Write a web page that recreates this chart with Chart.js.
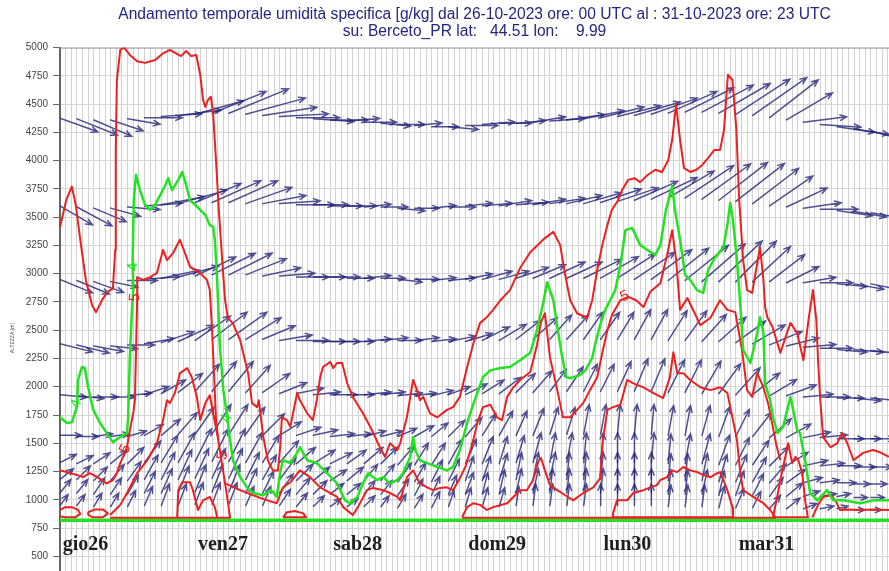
<!DOCTYPE html>
<html><head><meta charset="utf-8">
<script src="https://cdn.jsdelivr.net/npm/chart.js@4.4.0/dist/chart.umd.min.js"></script>
<style>html,body{margin:0;padding:0;background:#fff;overflow:hidden}</style>
</head><body>
<canvas id="c" width="889" height="571"></canvas>
<script>
// ---------- tick labels / categories ----------
const yTickValues = [500,750,1000,1250,1500,1750,2000,2250,2500,2750,3000,3250,3500,3750,4000,4250,4500,4750,5000];
const dayLabels = ['gio26','ven27','sab28','dom29','lun30','mar31'];
const dayStartHours = [0,24,48,72,96,120];
const titleLines = ['Andamento temporale umidità specifica [g/kg] dal 26-10-2023 ore: 00 UTC al : 31-10-2023 ore: 23 UTC',
                    'su: Berceto_PR lat:   44.51 lon:    9.99'];

// ---------- wind (3-hourly), per level: altitude (m), u, v ----------
const windHours = [0,3,6,9,12,15,18,21,24,27,30,33,36,39,42,45,48,51,54,57,60,63,66,69,72,75,78,81,84,87,90,93,96,99,102,105,108,111,114,117,120,123,126,129,132,135,138,141,144];

const lev1Alt = [4375,4370,4360,4360,4370,4380,4390,4400,4410,4420,4420,4410,4400,4390,4380,4370,4360,4350,4340,4330,4320,4310,4300,4300,4310,4320,4330,4330,4340,4350,4360,4370,4380,4390,4400,4410,4420,4430,4430,4420,4410,4400,4380,4360,4340,4320,4300,4280,4260];
const lev1U = [14,15,14,12,12,14,15,16,18,20,22,22,20,18,16,15,14,12,12,11,10,10,10,11,12,12,12,11,12,13,14,15,16,16,17,17,18,18,19,19,20,20,18,17,16,15,14,13,12];
const lev1V = [-5,-6,-6,-4,-2,0,1,2,5,8,9,6,3,1,0,-1,0,1,0,-1,0,1,0,-1,0,1,0,1,2,1,2,3,4,4,5,6,8,9,10,11,13,14,14,10,2,-1,-2,-2,-3];

const lev2Alt = [3600,3590,3580,3580,3590,3600,3610,3620,3630,3630,3630,3620,3620,3620,3610,3610,3600,3600,3590,3590,3580,3580,3580,3590,3600,3600,3600,3610,3610,3620,3620,3620,3630,3640,3650,3660,3670,3670,3660,3650,3640,3620,3600,3590,3580,3570,3560,3550,3540];
const lev2U = [12,13,12,11,12,14,16,18,17,18,18,17,16,15,14,13,12,11,10,10,10,9,9,10,10,11,12,12,12,13,13,14,15,15,16,17,17,18,18,18,18,17,16,15,14,14,13,12,12];
const lev2V = [-7,-7,-5,-3,-1,1,3,5,7,8,8,6,3,1,0,0,0,0,1,0,-1,0,1,0,1,1,2,1,2,2,3,4,5,5,7,8,10,12,13,14,14,13,11,7,2,0,-2,-2,-2];

const lev3Alt = [2950,2940,2930,2930,2940,2950,2960,2970,2980,2990,2990,2990,2980,2980,2970,2970,2970,2960,2960,2960,2950,2950,2940,2940,2950,2950,2950,2960,2960,2960,2960,2960,2960,2960,2950,2950,2940,2940,2930,2930,2930,2930,2930,2920,2920,2920,2910,2910,2910];
const lev3U = [12,12,11,10,11,13,14,15,15,16,16,15,14,13,12,12,11,10,10,9,9,9,9,10,10,11,11,12,12,13,13,14,14,14,15,15,15,16,16,16,15,14,13,12,12,12,11,11,10];
const lev3V = [-5,-5,-4,-2,0,1,3,4,7,8,8,6,3,1,0,0,0,0,1,0,-1,0,1,1,2,3,3,4,5,6,6,7,8,9,10,11,12,13,14,15,15,13,10,6,2,0,-1,-2,-2];

const lev4Alt = [2380,2370,2360,2360,2370,2380,2390,2400,2410,2420,2420,2420,2420,2410,2410,2400,2400,2400,2400,2410,2410,2410,2400,2400,2400,2410,2410,2420,2420,2420,2420,2420,2420,2420,2420,2420,2410,2410,2400,2400,2390,2380,2370,2360,2350,2340,2330,2330,2320];
const lev4U = [12,12,11,10,10,11,12,13,13,13,14,13,12,12,12,12,11,10,10,10,9,9,9,10,10,10,10,9,9,8,8,7,7,6,6,6,7,8,9,10,11,12,12,12,12,12,11,11,10];
const lev4V = [-3,-3,-2,-1,0,2,4,6,9,10,10,8,5,2,0,0,0,0,1,1,0,1,1,2,3,5,6,7,8,9,9,10,10,10,11,11,11,11,10,9,8,7,5,3,1,0,-1,-1,-1];

const lev5Alt = [1930,1920,1910,1910,1920,1930,1940,1950,1960,1960,1960,1950,1950,1940,1940,1930,1930,1930,1930,1930,1920,1920,1920,1930,1930,1940,1940,1950,1950,1960,1960,1960,1960,1960,1960,1960,1950,1950,1940,1940,1930,1930,1920,1920,1910,1910,1900,1900,1900];
const lev5U = [10,10,9,9,9,9,9,9,9,9,9,9,10,10,10,10,10,10,10,9,9,8,8,8,8,8,8,7,7,6,6,5,5,5,5,5,6,6,7,8,9,10,10,11,11,11,10,10,10];
const lev5V = [-1,-1,0,0,1,3,5,7,10,11,11,10,7,4,2,1,0,0,1,1,1,1,2,3,4,5,6,7,8,8,9,10,10,11,12,12,12,12,12,11,10,8,6,4,1,0,0,-1,-1];

const lev6Alt = [1570,1560,1560,1560,1560,1570,1570,1580,1580,1580,1580,1580,1570,1570,1570,1570,1560,1560,1560,1560,1560,1560,1560,1560,1560,1570,1570,1570,1570,1580,1580,1580,1580,1580,1580,1580,1570,1570,1570,1560,1560,1560,1550,1550,1550,1550,1540,1540,1540];
const lev6U = [8,8,7,7,7,7,7,7,7,7,7,7,8,8,9,9,9,9,8,8,7,7,6,6,6,5,5,4,4,3,3,2,2,1,1,1,2,2,3,4,5,7,8,9,10,10,10,10,9];
const lev6V = [0,0,1,1,2,4,6,8,10,11,11,10,8,5,3,2,1,1,2,2,3,4,5,6,7,8,9,9,10,10,10,11,11,11,11,11,11,11,11,11,10,9,7,5,2,1,0,0,0];

const lev7Alt = [1330,1320,1320,1320,1320,1330,1330,1330,1340,1340,1340,1330,1330,1330,1320,1320,1320,1320,1320,1320,1310,1310,1310,1320,1320,1320,1320,1330,1330,1330,1330,1330,1330,1330,1330,1330,1320,1320,1320,1310,1310,1310,1300,1300,1300,1300,1300,1290,1290];
const lev7U = [6,6,6,6,6,6,6,6,6,6,6,6,6,7,7,8,8,7,7,6,6,5,5,5,4,4,3,3,3,2,2,1,1,0,0,1,1,2,3,4,5,6,7,8,9,9,9,8,8];
const lev7V = [3,3,4,5,6,8,10,11,12,12,12,11,10,8,6,5,4,5,6,6,7,8,8,9,9,10,10,10,11,11,11,11,11,11,11,11,11,11,11,11,10,9,7,5,2,1,0,0,0];

const lev8Alt = [1180,1180,1170,1170,1170,1180,1180,1180,1190,1190,1190,1180,1180,1180,1170,1170,1170,1170,1170,1170,1160,1160,1160,1170,1170,1170,1170,1180,1180,1180,1180,1180,1180,1180,1180,1180,1170,1170,1170,1160,1160,1160,1150,1150,1150,1150,1150,1140,1140];
const lev8U = [5,5,5,5,5,5,5,5,5,5,5,5,5,6,6,6,6,6,5,5,5,4,4,4,3,3,3,2,2,2,1,1,1,0,0,0,1,1,2,3,4,5,6,7,7,7,7,6,6];
const lev8V = [4,5,5,6,7,9,10,11,11,11,11,10,9,8,6,5,4,5,6,6,7,7,8,8,9,9,10,10,10,10,10,10,10,10,10,10,10,10,10,10,10,9,7,5,2,1,0,0,0];

const lev9Alt = [1060,1060,1050,1050,1050,1060,1060,1060,1070,1070,1070,1060,1060,1060,1050,1050,1050,1050,1050,1050,1040,1040,1040,1050,1050,1050,1050,1060,1060,1060,1060,1060,1060,1060,1060,1060,1050,1050,1050,1040,1040,1040,1030,1030,1030,1030,1030,1020,1020];
const lev9U = [4,4,4,4,4,4,4,4,4,4,4,4,4,5,5,5,5,5,4,4,4,3,3,3,3,2,2,2,2,1,1,1,1,0,0,0,1,1,2,2,3,4,5,6,6,6,5,5,5];
const lev9V = [5,5,6,6,7,8,9,10,10,10,10,9,8,7,6,5,4,4,5,5,6,6,7,7,8,8,9,9,9,9,9,9,9,9,9,9,9,9,9,9,9,8,7,5,2,1,1,0,0];

const lev10Alt = [950,950,940,940,940,950,950,950,960,960,960,950,950,950,940,940,940,940,940,940,930,930,930,940,940,940,940,950,950,950,950,950,950,950,950,950,940,940,940,930,930,930,920,920,920,920,920,910,910];
const lev10U = [3,3,3,3,3,3,3,3,3,3,3,3,3,4,4,4,4,4,4,3,3,3,3,2,2,2,2,1,1,1,1,1,0,0,0,0,1,1,1,2,3,3,4,5,5,5,4,4,4];
const lev10V = [4,4,5,5,6,7,8,8,8,8,8,7,7,6,5,4,3,3,4,4,5,5,6,6,7,7,7,7,8,8,8,8,8,8,8,8,8,8,8,8,7,6,5,4,2,1,1,0,0];

// ---------- specific humidity isolines: [hour, altitude m] ----------
const red1 = [[0,3410],[1.1,3650],[2.1,3770],[2.8,3610],[3.6,3300],[4.6,2940],[5.7,2720],[6.4,2660],[7.5,2770],[8.5,2840],[9.4,2870],[9.8,3210],[9.9,4100],[10.1,4710],[10.7,4980],[11.4,5000],[12.4,4935],[13.7,4880],[15.1,4865],[16.9,4890],[18.3,4950],[19.5,4980],[20.6,4950],[21.5,4925],[22.4,4970],[23.3,4925],[24.2,4935],[24.9,4760],[25.4,4540],[25.8,4475],[26.3,4540],[26.8,4565],[27.2,4405],[27.7,4005],[28.2,3565],[28.8,3120],[29.3,2770],[29.8,2610],[30.7,2560],[32.0,2410],[33.4,2120],[34.1,1855],[35.0,1820],[35.3,1880],[36.1,1555],[36.9,1350],[37.8,1260],[38.7,1260],[39.1,1465],[39.4,1730],[40.3,1705],[40.9,1645],[42.1,1945],[42.6,1880],[43.9,1765],[44.9,1705],[45.6,1880],[46.2,2085],[46.7,2175],[48.0,2220],[48.5,2165],[49.2,2210],[50.1,2210],[51.0,2030],[52.0,1910],[53.8,1765],[55.4,1615],[56.8,1465],[57.7,1380],[58.6,1500],[59.9,1440],[60.4,1500],[61.6,1730],[62.2,1910],[62.7,2060],[63.4,1970],[63.9,1880],[64.5,1910],[65.7,1765],[67.0,1730],[68.7,1795],[69.8,1820],[71.0,1910],[72.3,2175],[73.4,2385],[74.6,2565],[75.8,2615],[76.9,2680],[78.2,2765],[79.9,2855],[81.7,3050],[83.5,3190],[86.1,3315],[87.6,3370],[88.8,3255],[89.7,2990],[90.6,2765],[91.8,2650],[93.6,2610],[94.5,2765],[95.4,3035],[96.3,3255],[97.2,3430],[98.0,3565],[99.1,3650],[99.8,3740],[100.9,3830],[102.0,3845],[103.0,3810],[104.4,3875],[105.7,3920],[106.9,3900],[108.0,4005],[108.7,4185],[109.4,4495],[110.1,4185],[110.8,3935],[111.9,3900],[113.0,3920],[114.0,3960],[115.1,4025],[116.2,4095],[117.2,4095],[117.9,4270],[118.6,4760],[119.4,4715],[120.1,4270],[120.6,3650],[121.3,3120],[122.0,2855],[122.9,2830],[123.6,3035],[124.3,3235],[124.9,2945],[125.2,2705],[125.6,2615],[126.5,2530],[127.9,2300],[129.7,2565],[130.9,2475],[132.0,2235],[132.9,2590],[133.7,2855],[134.3,2590],[134.6,2235],[135.0,1880],[135.5,1555],[136.8,1465],[138.0,1500],[138.9,1590],[139.8,1500],[140.9,1350],[142.6,1415],[144.4,1440],[145.6,1420],[147.2,1380]];
const red2 = [[0,1260],[1.2,1245],[3.0,1220],[4.1,1200],[5.3,1235],[6.6,1200],[8.3,1145],[9.4,1175],[10.1,1235],[10.7,1325],[11.2,1380],[11.9,1465],[12.4,1615],[13.0,1765],[13.3,1880],[13.5,2325],[13.7,2765],[13.7,2970],[14.7,2945],[16.0,2970],[17.2,3005],[18.3,3210],[19.0,3120],[20.1,3185],[21.3,3300],[21.8,3235],[23.1,3060],[24.9,3005],[26.1,2945],[26.6,2855],[27.0,2500],[27.4,2060],[27.7,1705],[28.1,1530]];
const red3 = [[8.9,865],[10.7,955],[11.9,1060],[13.7,1235],[15.5,1350],[17.2,1500],[18.3,1705],[19.0,1880],[19.5,1855],[20.4,1945],[21.3,2120],[22.6,2165],[23.4,2085],[24.3,1910],[24.9,1705],[25.8,1855],[26.6,1925],[27.2,1765],[28.1,1530],[28.8,1305],[29.5,1085],[30.2,845],[30.2,840],[8.9,840]];
const red4 = [[20.8,845],[21.0,1085],[21.7,1155],[23.1,1155],[23.6,1085],[24.5,910],[25.4,995],[26.6,1025],[27.5,935],[27.9,845]];
const red5 = [[0,910],[0.9,935],[2.1,935],[3.2,910],[3.6,875],[2.7,845],[0.9,845],[0,855]];
const red6 = [[5.0,890],[6.2,915],[7.6,915],[8.5,880],[7.6,845],[5.7,845],[5.0,870],[5.0,890]];
const red7 = [[29.3,1145],[32.0,1085],[34.3,1040],[36.8,995],[38.5,970],[39.6,1110],[40.9,1155],[42.6,1260],[44.4,1200],[46.2,1110],[48.0,1060],[49.2,1025],[50.3,935],[52.0,865],[52.9,935],[54.5,1085],[55.6,1105],[57.4,1085],[58.6,1060],[59.9,1025],[60.4,995],[61.6,1200],[62.7,1260],[63.9,1145],[65.2,1110],[66.3,1085],[67.5,1105],[68.7,1110],[69.8,1085],[71.0,1190],[72.1,1305],[73.4,1530],[74.1,1680],[75.1,1820],[76.4,1840],[77.6,1730],[78.5,1705],[79.4,1910],[80.5,1995],[81.7,2060],[83.5,2130],[84.7,2370],[85.4,2570],[86.1,2650],[87.0,2260],[88.3,1970],[89.3,1730],[90.6,1730],[91.8,1795],[92.9,1855],[94.1,1970],[95.4,2085],[96.4,2325],[97.2,2500],[98.0,2635],[99.5,2765],[100.9,2795],[102.3,2765],[103.6,2705],[104.8,2840],[106.6,2915],[107.8,3165],[108.7,3385],[109.4,3120],[110.1,2680],[111.4,2785],[113.7,2545],[115.5,2610],[117.2,2765],[118.5,2680],[119.9,2660],[121.1,2325],[122.0,1970],[122.9,1910],[123.8,2120],[124.9,1995],[125.8,1840],[126.5,1660],[127.2,1485],[127.9,1350]];
const red8 = [[71.4,845],[72.3,935],[73.4,970],[74.6,955],[75.8,910],[76.9,935],[79.4,970],[80.5,1025],[81.7,1085],[82.9,1085],[84.0,1175],[84.9,1335],[85.4,1370],[86.1,1260],[87.0,1130],[88.3,1085],[89.7,1040],[91.1,995],[92.9,1060],[94.7,1110],[95.9,1190],[96.4,1530],[97.2,1795],[98.2,1820],[99.5,1840],[100.7,2060],[101.8,2030],[103.6,1995],[105.3,1945],[107.1,1900],[108.3,2085],[108.9,2305],[109.6,2120],[110.7,2120],[111.9,2060],[113.7,1995],[115.5,1970],[117.2,1995],[118.5,1945],[119.5,1705],[120.2,1530],[120.8,1235],[121.3,1085],[123.1,1025],[124.9,970],[126.1,910],[127.0,845],[127.0,840],[71.4,840]];
const red9 = [[98.2,880],[98.9,995],[100.7,995],[101.8,1060],[103.6,1085],[104.8,1110],[106.0,1130],[106.6,1175],[107.8,1200],[108.7,1260],[109.6,1245],[110.7,1290],[111.9,1260],[113.1,1245],[114.2,1220],[115.5,1200],[116.7,1235],[117.2,1245],[117.8,1175],[118.5,1085],[119.4,935],[119.5,845],[98.2,845],[98.2,880]];
const red10 = [[126.6,845],[127.4,1040],[127.9,1175],[128.4,1290],[129.3,1500],[130.0,1325],[130.6,1380],[131.1,1350],[131.8,1235],[132.3,995],[132.8,845],[126.6,845]];
const red11 = [[133.6,845],[134.6,955],[135.5,1025],[136.8,1040],[137.7,995],[138.5,910],[139.8,915],[142.1,910],[144.4,915],[147.2,910]];
const red12 = [[39.6,845],[40.3,890],[41.7,900],[43.2,880],[43.7,845],[39.6,845]];

const green1 = [[0,1730],[1.2,1680],[2.1,1685],[3.0,1820],[3.2,2060],[3.9,2175],[4.4,2165],[5.0,1995],[5.9,1795],[7.1,1680],[8.3,1590],[9.4,1510],[10.7,1555],[11.9,1590],[12.1,1730],[12.4,2260],[12.8,2705],[13.0,2855],[12.9,3120],[13.1,3650],[13.5,3875],[14.2,3740],[15.1,3610],[16.0,3565],[16.9,3610],[17.8,3695],[18.7,3785],[19.2,3845],[19.9,3740],[21.0,3830],[21.7,3900],[22.4,3785],[23.1,3650],[24.0,3610],[24.9,3565],[25.8,3520],[26.6,3430],[27.2,3415],[27.5,3300],[27.9,2945],[28.4,2350],[29.0,1970],[29.7,1730],[30.2,1530],[30.7,1350],[32.0,1200],[33.2,1110],[34.3,1060],[36.1,1040],[37.3,1085],[37.8,1070],[38.5,1025],[39.1,1245],[39.6,1350],[40.9,1325],[42.1,1415],[42.6,1465],[43.9,1350],[45.6,1325],[47.4,1235],[49.2,1145],[50.6,995],[51.5,970],[52.8,1025],[53.8,1145],[54.7,1235],[56.3,1175],[57.4,1200],[58.6,1145],[59.9,1175],[60.9,1235],[62.2,1380],[62.7,1555],[63.1,1440],[63.9,1350],[65.2,1325],[67.0,1290],[68.7,1260],[69.8,1290],[71.0,1440],[72.3,1680],[73.2,1820],[74.1,1945],[75.1,2085],[76.4,2145],[78.2,2165],[79.9,2175],[81.7,2235],[83.5,2300],[84.7,2500],[85.8,2740],[86.5,2925],[87.6,2765],[88.4,2500],[89.1,2280],[89.9,2085],[90.6,2075],[92.4,2105],[93.3,2145],[94.5,2255],[95.0,2370],[95.9,2545],[96.8,2680],[97.7,2765],[98.6,2855],[99.5,3075],[100.4,3385],[101.6,3405],[103.0,3255],[104.3,3210],[105.7,3165],[106.6,3255],[107.6,3565],[108.7,3775],[109.2,3565],[110.1,3300],[111.0,2990],[111.9,2945],[113.1,2855],[114.2,2830],[115.1,3035],[116.3,3140],[117.8,3235],[118.5,3430],[119.0,3625],[119.5,3475],[120.2,3120],[120.8,2725],[121.3,2325],[122.6,2210],[123.8,2475],[124.3,2615],[124.9,2475],[125.2,2030],[126.1,1880],[126.6,1730],[127.4,1590],[128.4,1645],[129.7,1910],[130.2,1795],[130.9,1615],[131.4,1590],[132.3,1350],[133.2,1060],[134.5,995],[136.2,1085],[137.3,995],[139.1,995],[142.1,970],[144.4,995],[147.2,995]];
const ground = [[0,820],[147.2,820]];

// ---------- build ----------
const windLevels = [
  [lev1Alt,lev1U,lev1V],[lev2Alt,lev2U,lev2V],[lev3Alt,lev3U,lev3V],[lev4Alt,lev4U,lev4V],[lev5Alt,lev5U,lev5V],
  [lev6Alt,lev6U,lev6V],[lev7Alt,lev7U,lev7V],[lev8Alt,lev8U,lev8V],[lev9Alt,lev9U,lev9V],[lev10Alt,lev10U,lev10V]
];
const toXY = arr => arr.map(p => ({x: p[0], y: p[1]}));
const RED = 'rgb(236,32,32)', GREEN = 'rgb(34,226,34)';
const redLines = [red1,red2,red3,red4,red5,red6,red7,red8,red9,red10,red11,red12];
const datasets = [];
datasets.push({label:'4 g/kg', data: toXY(green1), borderColor: GREEN, borderWidth: 2.5});
redLines.forEach((r,i) => datasets.push({label:'5 g/kg '+i, data: toXY(r), borderColor: RED, borderWidth: 2}));
datasets.push({label:'suolo', data: toXY(ground), borderColor: GREEN, borderWidth: 3.5});
datasets.forEach(d => { d.showLine = true; d.pointRadius = 0; d.fill = false; d.tension = 0; d.borderJoinStyle = 'round'; });

const windPlugin = {
  id: 'winds',
  beforeDatasetsDraw(chart) {
    const {ctx, chartArea: a, scales: {x, y}} = chart;
    const K = 2.7, HL = 7, HA = 0.4;
    ctx.save();
    ctx.beginPath(); ctx.rect(a.left, a.top, a.right - a.left, a.bottom - a.top); ctx.clip();
    // top frame line
    ctx.strokeStyle = '#9a9a9a'; ctx.lineWidth = 1;
    ctx.beginPath(); ctx.moveTo(a.left, a.top + 0.5); ctx.lineTo(a.right, a.top + 0.5); ctx.stroke();
    ctx.strokeStyle = 'rgba(36,36,122,0.8)'; ctx.lineWidth = 1.5; ctx.lineCap = 'round';
    windLevels.forEach(([alt, u, v]) => {
      for (let i = 0; i < windHours.length; i++) {
        const px = x.getPixelForValue(windHours[i]);
        const py = y.getPixelForValue(alt[i]);
        const dx = u[i] * K, dy = -v[i] * K;
        const tx = px + dx, ty = py + dy;
        const ang = Math.atan2(dy, dx);
        ctx.beginPath();
        ctx.moveTo(px, py); ctx.lineTo(tx, ty);
        ctx.moveTo(tx - HL * Math.cos(ang - HA), ty - HL * Math.sin(ang - HA));
        ctx.lineTo(tx, ty);
        ctx.lineTo(tx - HL * Math.cos(ang + HA), ty - HL * Math.sin(ang + HA));
        ctx.stroke();
      }
    });
    ctx.restore();
  },
  afterDatasetsDraw(chart) {
    const {ctx, scales: {x, y}} = chart;
    ctx.save();
    const labs = [
      ['5', 13.3, 2790, -85, RED], ['5', 11.6, 1450, -65, RED], ['5', 28.9, 1390, -80, RED], ['5', 100.3, 2800, -25, RED],
      ['4', 2.9, 1850, -70, GREEN], ['4', 12.9, 3060, -90, GREEN], ['4', 29.6, 1720, -75, GREEN]
    ];
    ctx.font = '15px "Liberation Sans", Arial, sans-serif';
    ctx.textAlign = 'center'; ctx.textBaseline = 'middle';
    labs.forEach(([t, h, m, ang, col]) => {
      ctx.save();
      ctx.translate(x.getPixelForValue(h), y.getPixelForValue(m));
      ctx.rotate(ang * Math.PI / 180);
      ctx.fillStyle = col; ctx.fillText(t, 0, 0);
      ctx.restore();
    });
    ctx.font = 'bold 20px "Liberation Serif", "DejaVu Serif", serif';
    ctx.fillStyle = '#1e1e1e'; ctx.textAlign = 'left'; ctx.textBaseline = 'alphabetic';
    dayLabels.forEach((d, i) => ctx.fillText(d, x.getPixelForValue(dayStartHours[i] + 0.5), y.getPixelForValue(555)));
    ctx.save();
    ctx.translate(13, y.getPixelForValue(2430));
    ctx.rotate(-Math.PI / 2);
    ctx.font = '5px "Liberation Sans", Arial, sans-serif';
    ctx.fillStyle = '#444'; ctx.textAlign = 'center'; ctx.textBaseline = 'middle';
    ctx.fillText('ALTEZZA (m)', 0, 0);
    ctx.restore();
    ctx.restore();
  }
};

new Chart(document.getElementById('c'), {
  type: 'scatter',
  data: { datasets },
  options: {
    responsive: false, animation: false, devicePixelRatio: 1,
    layout: { padding: 0 },
    plugins: {
      legend: { display: false }, tooltip: { enabled: false },
      title: { display: true, text: titleLines, fullSize: false, color: '#262680',
               font: { family: '"Liberation Sans", Arial, sans-serif', size: 15.6, weight: 'normal', lineHeight: 1.1 },
               padding: { top: 6, bottom: 7.3 } }
    },
    scales: {
      x: {
        type: 'linear', min: 0, max: 147.2,
        afterBuildTicks: s => { const t = []; for (let h = 0; h <= 147; h++) t.push({value: h}); s.ticks = t; },
        afterFit: s => { s.height = 0; s.paddingLeft = 0; s.paddingRight = 0; },
        ticks: { display: false, autoSkip: false },
        grid: { color: '#d2d2d2', lineWidth: 1, drawTicks: false },
        border: { display: false }
      },
      y: {
        type: 'linear', min: 370, max: 5000,
        afterBuildTicks: s => { s.ticks = yTickValues.map(v => ({value: v})); },
        afterFit: s => { s.width = 60; s.paddingTop = 0; s.paddingBottom = 0; },
        ticks: { color: '#444', padding: 5, font: { family: '"Liberation Sans", Arial, sans-serif', size: 10 }, callback: v => String(v) },
        grid: { color: '#d6d6d6', lineWidth: 1, tickLength: 7, tickColor: '#666' },
        border: { color: '#666', width: 2 }
      }
    }
  },
  plugins: [windPlugin]
});
</script>
</body></html>
